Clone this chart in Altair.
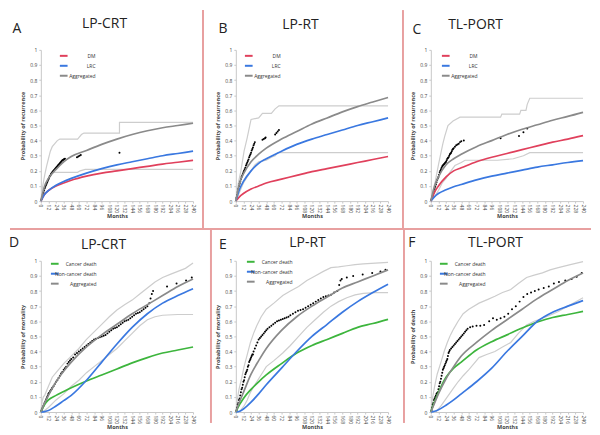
import altair as alt
import pandas as pd

# ---------------- data ----------------
GRID = [0, 6, 12, 24, 36, 48, 72, 96, 120, 144, 168, 192, 216, 240]
X_TICKS = [0, 12, 24, 36, 48, 60, 72, 84, 96, 108, 120, 132, 144, 156, 168, 180, 192, 204, 216, 228, 240]
Y_TICKS = [0, 0.1, 0.2, 0.3, 0.4, 0.5, 0.6, 0.7, 0.8, 0.9, 1]

TOP_SERIES = ["DM", "LRC", "Aggregated"]
BOT_SERIES = ["Cancer death", "Non-cancer death", "Aggregated"]

# Panel A  LP-CRT (recurrence)
A_DM = [0, 0.045, 0.07, 0.1, 0.12, 0.138, 0.165, 0.185, 0.2, 0.215, 0.23, 0.245, 0.257, 0.27]
A_LRC = [0, 0.045, 0.07, 0.105, 0.13, 0.15, 0.185, 0.215, 0.24, 0.26, 0.28, 0.3, 0.315, 0.33]
A_AGG = [0, 0.1, 0.15, 0.21, 0.26, 0.295, 0.335, 0.375, 0.41, 0.44, 0.465, 0.485, 0.5, 0.515]
A_UP_M = [0, 3, 6, 9, 12, 15, 18, 22, 26, 30, 58, 60, 64, 68, 124, 124, 240]
A_UP_P = [0, 0.1, 0.17, 0.23, 0.28, 0.33, 0.36, 0.38, 0.4, 0.41, 0.41, 0.42, 0.44, 0.45, 0.45, 0.52, 0.52]
A_LO_M = [0, 4, 8, 12, 17, 20, 58, 62, 70, 240]
A_LO_P = [0, 0.05, 0.1, 0.14, 0.18, 0.19, 0.19, 0.2, 0.21, 0.21]
A_DOT_M = [1, 2, 3, 4, 5, 6, 7, 8, 9, 10, 11, 12, 13, 14, 15, 16, 17, 18, 19, 20, 21, 22, 23, 24, 25,
           26, 27, 28, 29, 30, 31, 32, 33, 34, 35, 36, 37, 38, 57, 59, 61, 63, 124]
A_DOT_P = [0.01, 0.025, 0.04, 0.055, 0.07, 0.085, 0.095, 0.105, 0.115, 0.125, 0.135, 0.145, 0.155,
           0.165, 0.17, 0.18, 0.185, 0.19, 0.195, 0.2, 0.205, 0.21, 0.215, 0.22, 0.225, 0.23, 0.235,
           0.24, 0.245, 0.25, 0.255, 0.26, 0.265, 0.27, 0.272, 0.275, 0.278, 0.28, 0.29, 0.295, 0.3,
           0.305, 0.32]

# Panel B  LP-RT (recurrence)
B_DM = [0, 0.03, 0.05, 0.08, 0.1, 0.12, 0.145, 0.17, 0.195, 0.215, 0.235, 0.255, 0.275, 0.295]
B_LRC = [0, 0.08, 0.13, 0.2, 0.25, 0.28, 0.33, 0.375, 0.41, 0.44, 0.47, 0.5, 0.525, 0.55]
B_AGG = [0, 0.12, 0.18, 0.26, 0.31, 0.35, 0.41, 0.46, 0.51, 0.55, 0.59, 0.625, 0.655, 0.685]
B_UP_M = [0, 4, 8, 13, 18, 22, 24, 36, 42, 56, 62, 68, 240]
B_UP_P = [0, 0.12, 0.2, 0.33, 0.42, 0.5, 0.54, 0.55, 0.58, 0.58, 0.61, 0.63, 0.63]
B_LO_M = [0, 6, 12, 18, 24, 30, 36, 48, 56, 62, 66, 240]
B_LO_P = [0, 0.06, 0.12, 0.16, 0.2, 0.24, 0.26, 0.27, 0.29, 0.3, 0.32, 0.32]
B_DOT_M = [1, 2, 3, 4, 5, 6, 7, 8, 9, 10, 11, 12, 13, 14, 15, 16, 17, 18, 19, 20, 21, 22, 23, 24, 25,
           26, 27, 28, 29, 30, 42, 44, 46, 47, 62, 64, 66, 68]
B_DOT_P = [0.02, 0.04, 0.06, 0.08, 0.1, 0.115, 0.13, 0.145, 0.16, 0.17, 0.18, 0.19, 0.2, 0.21, 0.22,
           0.235, 0.245, 0.255, 0.265, 0.275, 0.29, 0.3, 0.31, 0.32, 0.335, 0.345, 0.355, 0.37, 0.38,
           0.39, 0.405, 0.41, 0.415, 0.42, 0.44, 0.45, 0.46, 0.47]

# Panel C  TL-PORT (recurrence)
C_DM = [0, 0.06, 0.1, 0.16, 0.2, 0.22, 0.26, 0.29, 0.315, 0.34, 0.365, 0.39, 0.41, 0.433]
C_LRC = [0, 0.03, 0.05, 0.075, 0.095, 0.11, 0.14, 0.165, 0.185, 0.205, 0.225, 0.24, 0.255, 0.268]
C_AGG = [0, 0.1, 0.16, 0.24, 0.28, 0.31, 0.36, 0.4, 0.44, 0.475, 0.505, 0.535, 0.56, 0.587]
C_UP_M = [0, 4, 7, 12, 15, 19, 22, 27, 35, 46, 110, 112, 140, 142, 150, 152, 156, 240]
C_UP_P = [0, 0.08, 0.13, 0.24, 0.3, 0.38, 0.43, 0.5, 0.53, 0.555, 0.555, 0.575, 0.575, 0.6, 0.6,
          0.64, 0.68, 0.68]
C_LO_M = [0, 6, 12, 18, 24, 30, 38, 48, 54, 105, 130, 146, 156, 240]
C_LO_P = [0, 0.03, 0.07, 0.12, 0.15, 0.19, 0.235, 0.255, 0.27, 0.27, 0.28, 0.3, 0.32, 0.32]
C_DOT_M = [1, 2, 3, 4, 5, 6, 7, 8, 9, 10, 11, 12, 13, 14, 15, 16, 17, 18, 19, 20, 21, 22, 23, 24, 25,
           26, 27, 28, 29, 30, 31, 32, 33, 34, 35, 36, 38, 40, 42, 44, 46, 48, 52, 110, 139, 146, 152]
C_DOT_P = [0.01, 0.02, 0.035, 0.05, 0.065, 0.08, 0.095, 0.11, 0.125, 0.14, 0.15, 0.16, 0.175, 0.19,
           0.2, 0.21, 0.22, 0.23, 0.235, 0.24, 0.245, 0.25, 0.255, 0.26, 0.27, 0.28, 0.285, 0.29,
           0.3, 0.31, 0.315, 0.32, 0.33, 0.34, 0.345, 0.35, 0.36, 0.37, 0.375, 0.38, 0.39, 0.395,
           0.4, 0.415, 0.43, 0.455, 0.48]

# Panel D  LP-CRT (mortality)
D_CAN = [0, 0.05, 0.08, 0.11, 0.135, 0.16, 0.205, 0.245, 0.285, 0.325, 0.36, 0.39, 0.41, 0.43]
D_NON = [0, 0.003, 0.01, 0.04, 0.075, 0.11, 0.21, 0.33, 0.45, 0.56, 0.65, 0.72, 0.77, 0.815]
D_AGG = [0, 0.06, 0.11, 0.2, 0.27, 0.33, 0.43, 0.51, 0.58, 0.65, 0.71, 0.77, 0.83, 0.88]
D_UP_M = [0, 2, 4, 6, 9, 12, 18, 24, 30, 36, 48, 60, 72, 84, 96, 108, 120, 132, 144, 156, 168, 180,
          192, 204, 216, 228, 240]
D_UP_P = [0, 0.07, 0.1, 0.11, 0.14, 0.17, 0.23, 0.26, 0.29, 0.32, 0.37, 0.42, 0.48, 0.53, 0.58,
          0.63, 0.675, 0.71, 0.74, 0.78, 0.82, 0.86, 0.89, 0.91, 0.93, 0.95, 0.985]
D_LO_M = [0, 6, 12, 24, 36, 48, 60, 72, 84, 96, 108, 120, 132, 144, 156, 168, 180, 192, 216, 240]
D_LO_P = [0, 0.01, 0.03, 0.08, 0.12, 0.17, 0.21, 0.26, 0.3, 0.34, 0.38, 0.42, 0.47, 0.52, 0.57,
          0.61, 0.63, 0.64, 0.645, 0.645]
D_DOT_M = [1, 2, 3, 4, 5, 6, 7, 8, 9, 10, 11, 12, 13, 14, 15, 16, 17, 18, 20, 22, 24, 26, 28, 30,
           32, 34, 36, 38, 40, 42, 44, 46, 48, 51, 54, 57, 60, 63, 66, 69, 72, 75, 78, 81, 84, 87,
           90, 93, 96, 99, 102, 105, 108, 111, 114, 117, 120, 123, 126, 129, 132, 135, 138, 141,
           144, 147, 150, 153, 156, 159, 162, 165, 168, 171, 173, 175, 177, 199, 214, 229, 238]
D_DOT_P = [0.01, 0.02, 0.03, 0.04, 0.05, 0.06, 0.07, 0.08, 0.09, 0.1, 0.11, 0.12, 0.125, 0.13,
           0.14, 0.145, 0.15, 0.16, 0.17, 0.185, 0.2, 0.21, 0.225, 0.24, 0.255, 0.265, 0.28, 0.29,
           0.3, 0.32, 0.33, 0.34, 0.35, 0.36, 0.38, 0.39, 0.4, 0.41, 0.42, 0.43, 0.44, 0.45, 0.46,
           0.47, 0.48, 0.485, 0.49, 0.495, 0.5, 0.505, 0.51, 0.52, 0.53, 0.54, 0.55, 0.555, 0.56,
           0.57, 0.58, 0.59, 0.6, 0.605, 0.61, 0.62, 0.63, 0.64, 0.65, 0.655, 0.66, 0.67, 0.68,
           0.69, 0.7, 0.72, 0.75, 0.78, 0.8, 0.83, 0.85, 0.87, 0.89]

# Panel E  LP-RT (mortality)
E_CAN = [0, 0.05, 0.09, 0.15, 0.2, 0.245, 0.32, 0.39, 0.44, 0.48, 0.52, 0.56, 0.585, 0.613]
E_NON = [0, 0.005, 0.02, 0.065, 0.12, 0.18, 0.29, 0.4, 0.5, 0.58, 0.66, 0.73, 0.79, 0.845]
E_AGG = [0, 0.07, 0.13, 0.25, 0.34, 0.42, 0.54, 0.63, 0.7, 0.76, 0.82, 0.86, 0.9, 0.94]
E_UP_M = [0, 3, 5, 9, 13, 18, 23, 28, 33, 40, 48, 60, 74, 86, 99, 112, 125, 138, 150, 162, 175,
          188, 201, 220, 240]
E_UP_P = [0, 0.1, 0.15, 0.22, 0.3, 0.38, 0.46, 0.52, 0.57, 0.63, 0.68, 0.72, 0.77, 0.8, 0.83,
          0.87, 0.9, 0.93, 0.955, 0.96, 0.967, 0.975, 0.98, 0.985, 0.99]
E_LO_M = [0, 6, 9, 13, 18, 23, 30, 36, 42, 48, 60, 74, 86, 99, 112, 125, 138, 150, 162, 175, 188,
          201, 220, 240]
E_LO_P = [0, 0.0, 0.02, 0.04, 0.08, 0.13, 0.18, 0.22, 0.26, 0.3, 0.34, 0.39, 0.44, 0.5, 0.56,
          0.61, 0.66, 0.7, 0.73, 0.756, 0.775, 0.785, 0.79, 0.79]
E_DOT_M = [1, 2, 3, 4, 5, 6, 7, 8, 9, 10, 11, 12, 13, 14, 15, 16, 17, 18, 19, 20, 21, 22, 23, 24,
           25, 26, 27, 28, 30, 32, 34, 36, 38, 40, 42, 44, 46, 48, 50, 53, 56, 59, 62, 65, 68, 71,
           74, 77, 80, 83, 86, 90, 94, 98, 102, 106, 110, 114, 118, 122, 126, 130, 134, 138, 142,
           146, 150, 155, 160, 163, 165, 167, 175, 185, 200, 215, 228, 236]
E_DOT_P = [0.01, 0.03, 0.05, 0.06, 0.08, 0.09, 0.11, 0.13, 0.15, 0.16, 0.18, 0.2, 0.21, 0.23, 0.25,
           0.26, 0.27, 0.28, 0.3, 0.31, 0.33, 0.34, 0.35, 0.36, 0.37, 0.38, 0.38, 0.4, 0.42, 0.44,
           0.46, 0.48, 0.49, 0.5, 0.51, 0.52, 0.53, 0.54, 0.55, 0.56, 0.57, 0.58, 0.59, 0.6, 0.605,
           0.61, 0.615, 0.62, 0.625, 0.63, 0.64, 0.65, 0.66, 0.67, 0.675, 0.68, 0.69, 0.7, 0.71,
           0.72, 0.73, 0.74, 0.75, 0.76, 0.765, 0.77, 0.775, 0.79, 0.8, 0.84, 0.87, 0.88, 0.89,
           0.9, 0.91, 0.92, 0.93, 0.94]

# Panel F  TL-PORT (death)
F_CAN = [0, 0.07, 0.13, 0.23, 0.29, 0.33, 0.41, 0.465, 0.51, 0.555, 0.595, 0.625, 0.645, 0.665]
F_NON = [0, 0.005, 0.015, 0.045, 0.08, 0.12, 0.2, 0.29, 0.4, 0.5, 0.6, 0.66, 0.7, 0.737]
F_AGG = [0, 0.06, 0.12, 0.22, 0.3, 0.37, 0.46, 0.54, 0.61, 0.68, 0.75, 0.81, 0.87, 0.92]
F_UP_M = [0, 3, 6, 10, 16, 21, 26, 31, 36, 43, 51, 60, 76, 90, 101, 113, 126, 138, 151, 163, 176,
          188, 201, 220, 240]
F_UP_P = [0, 0.1, 0.17, 0.25, 0.33, 0.4, 0.46, 0.51, 0.55, 0.6, 0.65, 0.68, 0.72, 0.745, 0.765,
          0.79, 0.81, 0.85, 0.89, 0.905, 0.92, 0.94, 0.955, 0.975, 0.995]
F_LO_M = [0, 8, 12, 16, 21, 26, 36, 43, 51, 60, 68, 76, 88, 101, 113, 126, 138, 151, 163, 176, 188,
          201, 220, 240]
F_LO_P = [0, 0.0, 0.02, 0.04, 0.07, 0.1, 0.16, 0.2, 0.24, 0.28, 0.32, 0.36, 0.38, 0.4, 0.43, 0.46,
          0.52, 0.575, 0.6, 0.62, 0.64, 0.665, 0.71, 0.755]
F_DOT_M = [1, 2, 3, 4, 5, 6, 7, 8, 9, 10, 11, 12, 13, 14, 15, 16, 17, 18, 19, 20, 21, 22, 23, 24,
           25, 26, 27, 28, 29, 30, 32, 34, 36, 38, 40, 42, 44, 46, 48, 50, 52, 54, 56, 58, 62, 66,
           72, 78, 84, 92, 98, 104, 110, 116, 122, 128, 134, 140, 146, 152, 158, 164, 170, 178,
           186, 194, 202, 212, 222, 230, 238]
F_DOT_P = [0.01, 0.03, 0.05, 0.06, 0.08, 0.09, 0.1, 0.11, 0.12, 0.125, 0.13, 0.15, 0.17, 0.19,
           0.2, 0.22, 0.24, 0.26, 0.28, 0.29, 0.3, 0.31, 0.32, 0.33, 0.34, 0.35, 0.37, 0.39, 0.4,
           0.41, 0.42, 0.43, 0.44, 0.45, 0.46, 0.47, 0.48, 0.49, 0.5, 0.51, 0.52, 0.53, 0.54, 0.55,
           0.56, 0.565, 0.57, 0.57, 0.575, 0.6, 0.62, 0.61, 0.62, 0.63, 0.65, 0.68, 0.7, 0.73,
           0.76, 0.78, 0.79, 0.8, 0.81, 0.82, 0.83, 0.85, 0.86, 0.87, 0.88, 0.895, 0.92]

# ---------------- styling ----------------
RED, BLUE, GREEN = "#e0405c", "#3a78e0", "#3db53d"
AGG_GRAY, CI_GRAY, SEP_RED = "#8a8a8a", "#cdcdcd", "#e8a0a0"
FONT = "Open Sans"
W, H = 153, 152

PANELS = [
    dict(letter="A", title="LP-CRT", ytitle="Probability of recurrence", names=TOP_SERIES,
         colors=[RED, BLUE, AGG_GRAY], curves=[A_DM, A_LRC, A_AGG],
         up=(A_UP_M, A_UP_P), lo=(A_LO_M, A_LO_P), dots=(A_DOT_M, A_DOT_P),
         leg=(18, 1), lab_off=27, let_xy=(-24, -21), tit_xy=(64, -26)),
    dict(letter="B", title="LP-RT", ytitle="Probability of recurrence", names=TOP_SERIES,
         colors=[RED, BLUE, AGG_GRAY], curves=[B_DM, B_LRC, B_AGG],
         up=(B_UP_M, B_UP_P), lo=(B_LO_M, B_LO_P), dots=(B_DOT_M, B_DOT_P),
         leg=(8, 1), lab_off=27, let_xy=(-13, -21), tit_xy=(65, -25)),
    dict(letter="C", title="TL-PORT", ytitle="Probability of recurrence", names=TOP_SERIES,
         colors=[RED, BLUE, AGG_GRAY], curves=[C_DM, C_LRC, C_AGG],
         up=(C_UP_M, C_UP_P), lo=(C_LO_M, C_LO_P), dots=(C_DOT_M, C_DOT_P),
         leg=(10, 1), lab_off=27, let_xy=(-14, -20), tit_xy=(45, -25)),
    dict(letter="D", title="LP-CRT", ytitle="Probability of mortality", names=BOT_SERIES,
         colors=[GREEN, BLUE, AGG_GRAY], curves=[D_CAN, D_NON, D_AGG],
         up=(D_UP_M, D_UP_P), lo=(D_LO_M, D_LO_P), dots=(D_DOT_M, D_DOT_P),
         leg=(9, -2), lab_off=37, let_xy=(-27, -18), tit_xy=(63, -16)),
    dict(letter="E", title="LP-RT", ytitle="Probability of mortality", names=BOT_SERIES,
         colors=[GREEN, BLUE, AGG_GRAY], curves=[E_CAN, E_NON, E_AGG],
         up=(E_UP_M, E_UP_P), lo=(E_LO_M, E_LO_P), dots=(E_DOT_M, E_DOT_P),
         leg=(10, -4), lab_off=37, let_xy=(-13, -16), tit_xy=(72, -18)),
    dict(letter="F", title="TL-PORT", ytitle="Probability of death", names=BOT_SERIES,
         colors=[GREEN, BLUE, AGG_GRAY], curves=[F_CAN, F_NON, F_AGG],
         up=(F_UP_M, F_UP_P), lo=(F_LO_M, F_LO_P), dots=(F_DOT_M, F_DOT_P),
         leg=(8, -2), lab_off=37, let_xy=(-19, -18), tit_xy=(65, -18)),
]


def make_panel(p, idx):
    xenc = alt.X("month:Q", scale=alt.Scale(domain=[0, 240], nice=False, zero=False),
                 axis=alt.Axis(values=X_TICKS, labelAngle=90, title="Months", labelFontSize=5,
                               titleFontSize=5.5, grid=False, tickSize=2, labelPadding=1,
                               titlePadding=1, domainColor="#c8c8c8", tickColor="#c8c8c8",
                               labelColor="#444", titleColor="#444", labelAlign="left",
                               labelBaseline="middle"))
    yenc = alt.Y("prob:Q", scale=alt.Scale(domain=[0, 1], nice=False),
                 axis=alt.Axis(values=Y_TICKS, format="~g", title=p["ytitle"], labelFontSize=5,
                               titleFontSize=5.5, grid=False, tickSize=2, labelPadding=2,
                               titlePadding=4, domainColor="#c8c8c8", tickColor="#c8c8c8",
                               labelColor="#444", titleColor="#444"))

    rows = []
    for name, vals in zip(p["names"], p["curves"]):
        for m, v in zip(GRID, vals):
            rows.append({"month": m, "prob": v, "series": name})
    curves = pd.DataFrame(rows)

    ci_rows = []
    for bound, (ms, ps) in (("upper", p["up"]), ("lower", p["lo"])):
        for i, (m, v) in enumerate(zip(ms, ps)):
            ci_rows.append({"month": m, "prob": v, "bound": bound, "order": i})
    ci = pd.DataFrame(ci_rows)
    dots = pd.DataFrame({"month": p["dots"][0], "prob": p["dots"][1]})

    ci_layer = alt.Chart(ci).mark_line(color=CI_GRAY, strokeWidth=1.2).encode(
        x=xenc, y=yenc, detail="bound:N", order="order:Q")
    dot_layer = alt.Chart(dots).mark_circle(size=4, color="black", opacity=1).encode(x=xenc, y=yenc)
    curve_layer = alt.Chart(curves).mark_line(interpolate="monotone", strokeWidth=1.7).encode(
        x=xenc, y=yenc,
        color=alt.Color("series:N",
                        scale=alt.Scale(domain=p["names"], range=p["colors"]),
                        sort=p["names"],
                        legend=alt.Legend(orient="none", legendX=p["leg"][0], legendY=p["leg"][1],
                                          title=None, symbolType="stroke", symbolStrokeWidth=2,
                                          symbolSize=60, labelFontSize=5, rowPadding=1,
                                          labelOffset=p["lab_off"], labelColor="#333",
                                          labelFont=FONT, labelAlign="right")))

    one = pd.DataFrame({"t": [p["letter"]], "s": [p["title"]]})
    letter = alt.Chart(one).mark_text(fontSize=14, font=FONT, color="#222").encode(
        x=alt.value(p["let_xy"][0]), y=alt.value(p["let_xy"][1]), text="t:N")
    title = alt.Chart(one).mark_text(fontSize=14, font=FONT, color="#222").encode(
        x=alt.value(p["tit_xy"][0]), y=alt.value(p["tit_xy"][1]), text="s:N")

    layers = [ci_layer, dot_layer, curve_layer, letter, title]

    if idx == 0:
        # panel separators (pixel offsets from panel A plot origin)
        seps = [
            dict(x=-31, x2=553, y=180, y2=180),
            dict(x=163, x2=163, y=-40, y2=180),
            dict(x=364, x2=364, y=-40, y2=180),
            dict(x=171, x2=171, y=180, y2=375),
            dict(x=365, x2=365, y=180, y2=375),
        ]
        for s in seps:
            layers.insert(0, alt.Chart(one).mark_rule(color=SEP_RED, strokeWidth=2).encode(
                x=alt.value(s["x"]), x2=alt.value(s["x2"]), y=alt.value(s["y"]),
                y2=alt.value(s["y2"])))

    return alt.layer(*layers).properties(width=W, height=H)


panels = [make_panel(p, i) for i, p in enumerate(PANELS)]

chart = alt.concat(*panels, columns=3, spacing={"row": 60, "column": 43}, bounds="flush").resolve_scale(
    color="independent").resolve_legend(color="independent").properties(padding=0).configure_view(
    stroke=None).configure_axis(labelFont=FONT, titleFont=FONT).configure_text(font=FONT)

chart.save("out.html", embed_options={"renderer": "svg", "actions": False})
